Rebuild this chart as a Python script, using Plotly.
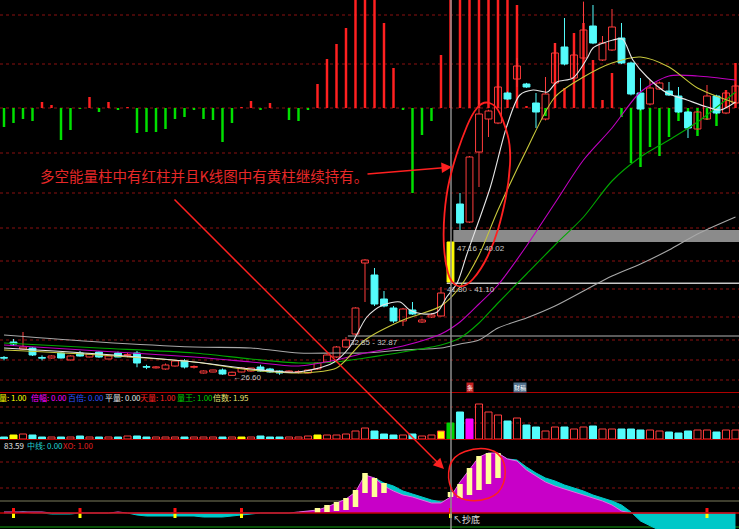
import plotly.graph_objects as go

W, H = 739, 529

# ---------------- data ----------------
opens = [29.50,32.04,30.92,31.08,29.50,29.48,30.28,29.16,30.28,29.64,30.44,29.32,30.28,29.90,30.28,28.10,27.90,27.72,28.20,29.00,
         28.00,27.08,27.24,27.56,26.70,27.24,27.40,28.04,27.72,27.40,27.24,27.20,27.08,27.72,28.84,29.64,31.24,33.32,44.68,42.76,
         38.92,37.48,35.40,37.16,35.24,36.04,36.20,41.64,54.12,51.24,62.44,67.72,67.08,71.88,74.12,73.32,70.28,67.72,73.48,79.24,
         74.28,77.48,82.60,77.16,78.76,80.68,76.68,71.88,70.12,72.52,72.20,71.40,68.84,66.12,67.72,71.40,68.68,70.28]
highs = [29.80,32.52,33.64,31.20,29.90,29.90,30.40,29.90,30.60,30.20,30.60,29.90,30.50,30.30,30.60,28.40,28.20,28.60,29.10,29.30,
         28.30,27.50,27.60,27.80,27.30,28.00,27.90,28.40,27.90,27.50,27.50,27.50,27.60,28.80,30.10,31.40,32.84,37.60,45.30,43.88,
         40.20,37.80,37.50,38.44,35.80,36.60,40.84,48.04,55.88,61.80,70.76,69.20,73.00,72.10,77.48,73.50,71.88,74.44,79.88,83.88,
         78.50,86.50,85.96,81.00,85.32,83.08,76.90,74.28,73.96,73.70,73.64,72.84,69.00,69.00,73.16,71.60,72.10,73.30]
lows = [29.10,31.40,30.80,29.80,29.10,29.40,29.40,29.10,29.70,29.60,29.50,29.30,29.60,29.60,28.00,27.70,27.80,27.60,28.10,27.80,
        27.80,27.00,27.20,26.80,26.60,27.20,27.30,27.30,27.10,26.80,27.10,27.00,27.00,27.60,28.70,29.50,31.10,33.10,38.44,37.80,
        37.60,35.10,34.60,36.40,35.10,35.90,36.10,41.10,49.96,51.10,56.84,64.84,66.90,70.80,72.84,72.70,66.28,67.50,73.30,76.30,
        74.10,77.30,79.70,77.00,78.60,76.50,71.50,69.10,69.90,72.40,71.40,68.70,64.68,66.00,67.60,68.50,68.50,70.10]
closes = [29.45,31.72,31.24,29.96,29.45,29.80,29.48,29.80,29.80,30.12,29.64,29.80,29.64,30.00,28.68,28.00,28.06,28.36,29.00,28.04,
          28.10,27.40,27.56,26.92,27.20,27.88,27.88,27.40,27.24,27.08,27.40,27.30,27.56,28.68,29.96,31.24,32.36,37.48,45.16,38.12,
          37.80,35.40,37.32,36.52,35.56,36.36,39.88,48.04,51.08,61.64,68.52,69.00,72.84,70.92,76.20,72.84,68.84,71.72,78.28,76.52,
          77.96,81.96,79.88,79.88,82.44,76.68,71.72,69.32,72.68,73.48,71.56,68.84,66.28,68.84,71.40,68.68,71.88,73.00]
yellow_candle = [47]

ma_idx = [0,10,20,26,31,35,38,42,46,48,50,52,55,58,61,64,67,70,73,77]
ma10 = [30.76,29.96,28.84,27.56,27.08,27.88,32.36,35.56,37.80,40.84,45.96,53.16,62.76,71.24,74.44,76.68,77.64,76.04,72.68,70.28]
ma20 = [31.56,30.60,29.64,28.84,28.20,29.16,30.28,31.40,33.32,35.24,38.12,41.16,47.40,54.28,61.16,66.28,72.04,74.60,74.60,73.96]
ma30 = [31.88,31.08,30.28,29.32,28.68,28.84,29.48,30.44,31.56,32.68,35.08,38.28,42.92,47.56,52.04,57.80,61.64,64.36,67.24,72.04]
ma60 = [33.16,32.04,31.24,31.08,30.28,30.28,30.28,30.76,31.08,31.72,32.36,34.28,35.88,37.80,40.20,42.60,44.52,46.76,49.32,52.04]
ma5_idx = [0,10,20,26,31,34.6,36.4,38.2,39.9,41.7,42.7,44.1,45.6,46.6,47.7,48.7,51.2,52.9,54.3,55.7,57.2,58.2,59.9,61.4,62.0,
           64.1,65.1,66.2,67.7,69.8,71.9,74.0,75.4,77.0]
ma5 = [31.08,30.12,28.84,27.72,27.24,28.68,31.24,36.04,37.96,38.44,37.16,36.52,36.84,39.24,41.48,45.96,56.84,66.44,71.56,72.36,
       72.04,73.64,74.28,77.48,79.08,80.36,80.52,77.16,74.44,71.88,70.76,69.64,69.16,70.44]

energy = [-19,-15,-11,-13,6,3,-32,-22,-1,11,-4,6,-2,1,-25,-24,-24,-21,-11,-9,
          -2,-11,-12,-34,-15,1,7,-2,5,0,-12,-13,-2,24,49,64,80,120,120,120,
          85,40,-2,-85,-27,-13,53,120,120,120,120,120,120,120,103,2,-3,-8,65,20,
          75,85,48,8,35,-9,-55,-59,-39,-48,-29,-13,-15,-28,-12,-18,18,45]

volume = [2,4,5,4,2,2,2,2,3,2,2,2,2,3,3,2,2,2,2,2,
          2,2,2,2,2,2,2,3,2,2,2,2,3,4,4,4,5,8,11,8,
          5,4,4,5,3,4,8,16,27,20,35,27,24,18,21,14,12,8,12,12,
          10,12,13,10,10,10,10,9,9,8,7,6,8,9,9,7,9,9]
volume_special = {1: "#ffff00", 25: "#ffff00", 33: "#ffff00", 46: "#ffff00", 47: "#00d000", 49: "#ff00ff"}

ind_cyan = [0,0,1,0,0,-1,-1,-1,0,0,0,0,0,0,-2,-3,-3,-3,-3,-3,
            -3,-4,-4,-4,-3,-2,-1,0,0,0,0,0,1,2,5,9,13,20,35,35,
            30,27,22,19,16,13,11,12,25,38,50,57,59,54,53,46,40,35,32,28,
            25,22,18,15,12,8,1,-8,-13,-18,-22,-22,-22,-22,-22,-22,-22,-22]
ind_mag = [1,1,1,1,1,0,0,0,0,0,0,0,1,0,0,0,0,0,0,0,
           0,0,0,0,0,0,0,0,0,0,0,1,2,3,6,10,14,21,38,35,
           27,22,18,16,13,10,10,16,31,43,56,60,60,54,52,43,37,31,27,24,
           21,18,15,12,8,2,0,0,0,0,0,0,0,0,0,0,0,0]
ybar_idx = [33,34,35,36,37,38,39,40,47,48,49,50,51,52]
ybar_base = [0,1,2,3,6,20,16,20,16,15,18,23,29,35]
ybar_top = [5,8,11,15,23,40,35,30,21,29,45,57,60,60]
signal_idx = [1,8,18,25,47,74]

vol_header = [("量: 1.00", "#ffff00"), ("倍幅: 0.00", "#ff00ff"), ("百倍: 0.00", "#3050ff"),
              ("平量: 0.00", "#e0e0e0"), ("天量: 1.00", "#ff2020"), ("量王: 1.00", "#00d000"),
              ("倍数: 1.95", "#e8e070")]
ind_header = [("83.59", "#e0e0e0"), ("中线: 0.00", "#20d0d0"), ("XO: 1.00", "#e02020")]
note_text = "多空能量柱中有红柱并且K线图中有黄柱继续持有。"

# ---------------- styling helpers ----------------
RED = "#ff3c3c"
CYAN = "#54fcfc"
BG = "#000000"
CJK = "Noto Sans CJK SC"
n = len(opens)
xs = list(range(n))


def P(px, py):
    return px / W, 1 - py / H


def segments(xv, y0v, y1v):
    sx, sy = [], []
    for a, b, c in zip(xv, y0v, y1v):
        sx += [a, a, None]
        sy += [b, c, None]
    return sx, sy


fig = go.Figure()

# energy bars (base axis y)
fig.add_trace(go.Bar(x=xs, y=energy, width=0.26, yaxis="y", xaxis="x",
                     marker=dict(color=["#ff2020" if v > 0 else "#00e000" for v in energy], line_width=0),
                     hoverinfo="skip", showlegend=False))

# candles (y2)
is_up = [c >= o for o, c in zip(opens, closes)]
wx_r, wy_r, wx_c, wy_c = [], [], [], []
for i in xs:
    top, bot = max(opens[i], closes[i]), min(opens[i], closes[i])
    sx, sy = (wx_r, wy_r) if is_up[i] else (wx_c, wy_c)
    sx += [i, i, None, i, i, None]
    sy += [highs[i], top, None, bot, lows[i], None]
fig.add_trace(go.Scatter(x=wx_r, y=wy_r, mode="lines", line=dict(color=RED, width=1), yaxis="y2",
                         hoverinfo="skip", showlegend=False))
fig.add_trace(go.Scatter(x=wx_c, y=wy_c, mode="lines", line=dict(color=CYAN, width=1), yaxis="y2",
                         hoverinfo="skip", showlegend=False))
body_base = [min(o, c) for o, c in zip(opens, closes)]
body_h = [max(abs(c - o), 0.12) for o, c in zip(opens, closes)]
fills, lines = [], []
for i in xs:
    if i in yellow_candle:
        fills.append("#ffff00"); lines.append("#ffff00")
    elif is_up[i]:
        fills.append("rgba(0,0,0,0)"); lines.append(RED)
    else:
        fills.append(CYAN); lines.append(CYAN)
fig.add_trace(go.Bar(x=xs, y=body_h, base=body_base, width=0.72, yaxis="y2",
                     marker=dict(color=fills, line=dict(color=lines, width=1)),
                     hoverinfo="skip", showlegend=False))

# moving averages
for idx, vals, col in [(ma_idx, ma60, "#a8a8a8"), (ma_idx, ma30, "#00a800"), (ma_idx, ma20, "#c000c0"),
                       (ma_idx, ma10, "#c8c83c"), (ma5_idx, ma5, "#e6e6e6")]:
    fig.add_trace(go.Scatter(x=idx, y=vals, mode="lines", yaxis="y2",
                             line=dict(color=col, width=1.1, shape="spline", smoothing=0.8),
                             hoverinfo="skip", showlegend=False))

# volume (y3)
vfill, vline = [], []
for i in xs:
    if i in volume_special:
        vfill.append(volume_special[i]); vline.append(volume_special[i] if i != 46 else RED)
    elif is_up[i]:
        vfill.append("rgba(0,0,0,0)"); vline.append(RED)
    else:
        vfill.append(CYAN); vline.append(CYAN)
fig.add_trace(go.Bar(x=xs, y=volume, width=0.74, yaxis="y3",
                     marker=dict(color=vfill, line=dict(color=vline, width=1)),
                     hoverinfo="skip", showlegend=False))

# indicator (y4)
fig.add_trace(go.Scatter(x=xs, y=ind_cyan, mode="lines", fill="tozeroy", yaxis="y4",
                         line=dict(color="#00c8c8", width=1), fillcolor="#00c8c8",
                         hoverinfo="skip", showlegend=False))
fig.add_trace(go.Scatter(x=xs, y=ind_mag, mode="lines", fill="tozeroy", yaxis="y4",
                         line=dict(color="#e070e0", width=1), fillcolor="#c800c8",
                         hoverinfo="skip", showlegend=False))
# light-yellow floating bars (drawn as thick segments so they sit above the fills)
bx, by = segments(ybar_idx, ybar_base, ybar_top)
fig.add_trace(go.Scatter(x=bx, y=by, mode="lines", yaxis="y4", line=dict(color="#ffff99", width=5.5),
                         hoverinfo="skip", showlegend=False))
sx, sy = segments(signal_idx, [0] * len(signal_idx), [5] * len(signal_idx))
fig.add_trace(go.Scatter(x=sx, y=sy, mode="lines", yaxis="y4", line=dict(color="#ff1010", width=3),
                         hoverinfo="skip", showlegend=False))
sx, sy = segments(signal_idx, [0] * len(signal_idx), [-5] * len(signal_idx))
fig.add_trace(go.Scatter(x=sx, y=sy, mode="lines", yaxis="y4", line=dict(color="#ffff00", width=3),
                         hoverinfo="skip", showlegend=False))

# ---------------- shapes ----------------
shapes = []


def hline_px(py, color, dash="dot", width=1, layer="below", x0=0, x1=W):
    a, b = P(x0, py), P(x1, py)
    shapes.append(dict(type="line", xref="paper", yref="paper", x0=a[0], x1=b[0], y0=a[1], y1=b[1],
                       line=dict(color=color, width=width, dash=dash), layer=layer))


for py in [15, 64, 108, 153, 193, 228, 261, 289, 317, 340, 360, 380]:
    hline_px(py, "#8a1010")
for py in [407, 423, 462, 488]:
    hline_px(py, "#8a1010")
hline_px(392.5, "#b00000", "solid", 1.2, "above")
hline_px(439.5, "#b00000", "solid", 1.2, "above")
hline_px(501, "#7c7c5c", "solid", 1.2)
hline_px(527, "#0b6b0b", "solid", 1.5)
shapes.append(dict(type="line", xref="paper", yref="y4", x0=0, x1=1, y0=0, y1=0,
                   line=dict(color="#c00000", width=1.5), layer="above"))

# gap band and gap lines (price coords)
shapes.append(dict(type="rect", xref="x", yref="y2", x0=47.3, x1=78, y0=highs[47], y1=lows[48],
                   fillcolor="#9a9a9a", line=dict(width=0), opacity=0.9, layer="below"))
shapes.append(dict(type="line", xref="x", yref="y2", x0=46.6, x1=78, y0=41.45, y1=41.45,
                   line=dict(color="#c8c8c8", width=1.5), layer="below"))
shapes.append(dict(type="line", xref="x", yref="y2", x0=36.2, x1=78, y0=33.0, y1=33.0,
                   line=dict(color="#b4b4b4", width=1.2), layer="below"))

# cursor line
shapes.append(dict(type="line", xref="paper", yref="paper", x0=451 / W, x1=451 / W, y0=0, y1=1,
                   line=dict(color="#8c8c8c", width=1.5), layer="above"))


def smooth_closed(pts):
    pp = [P(a, b) for a, b in pts]
    m = len(pp)
    mids = [((pp[k][0] + pp[(k + 1) % m][0]) / 2, (pp[k][1] + pp[(k + 1) % m][1]) / 2) for k in range(m)]
    s = f"M {mids[-1][0]:.5f},{mids[-1][1]:.5f}"
    for k in range(m):
        s += f" Q {pp[k][0]:.5f},{pp[k][1]:.5f} {mids[k][0]:.5f},{mids[k][1]:.5f}"
    return s + " Z"


oval = [(483, 101), (496, 105), (504, 122), (511, 147), (509, 182), (502, 216), (494, 243), (481, 270),
        (465, 288), (451, 284), (445, 262), (443, 232), (446, 195), (453, 165), (462, 138), (472, 114)]
shapes.append(dict(type="path", xref="paper", yref="paper", path=smooth_closed(oval),
                   line=dict(color="#ff2020", width=1.8), layer="above"))
ring = [(478, 447), (500, 452), (507, 472), (500, 494), (478, 502), (455, 498), (447, 478), (452, 456)]
shapes.append(dict(type="path", xref="paper", yref="paper", path=smooth_closed(ring),
                   line=dict(color="#ff2020", width=1.5), layer="above"))

# ---------------- annotations ----------------
ann = []


def text_px(px, py, text, color, size=8, family="Liberation Sans", anchor="left", bg=None):
    a = P(px, py)
    d = dict(x=a[0], y=a[1], xref="paper", yref="paper", text=text, showarrow=False,
             xanchor=anchor, yanchor="middle", font=dict(color=color, size=size, family=family))
    if bg:
        d["bgcolor"] = bg
        d["borderpad"] = 0
    ann.append(d)


vx = [-3, 29, 66, 103, 138, 175, 211]
for (t, c), px in zip(vol_header, vx):
    text_px(px, 397, t, c, 8, CJK)
ix = [2, 25, 61]
for (t, c), px in zip(ind_header, ix):
    text_px(px, 445, t, c, 8, CJK)

text_px(38, 175, note_text, "#e62828", 14.5, CJK)
text_px(455, 248, "47.16 - 40.02", "#c8c8c8", 8)
text_px(445, 289, "41.80 - 41.10", "#c8c8c8", 8)
text_px(348, 342, "32.85 - 32.87", "#c8c8c8", 8)
text_px(231, 377, "←26.60", "#c8c8c8", 8)
text_px(451, 519, "↖抄底", "#e0e0e0", 9, CJK)
text_px(466, 387, "条", "#ffffff", 6, CJK, bg="#c02020")
text_px(513, 387, "财稿", "#ffffff", 6, CJK, bg="#50708c")

# arrows
h1 = P(452, 167)
ann.append(dict(x=h1[0], y=h1[1], xref="paper", yref="paper", ax=366 - 452, ay=174 - 167, text="",
                showarrow=True, arrowhead=2, arrowsize=1.4, arrowwidth=1.5, arrowcolor="#ff2020"))
h2 = P(444, 469)
ann.append(dict(x=h2[0], y=h2[1], xref="paper", yref="paper", ax=173 - 444, ay=198 - 469, text="",
                showarrow=True, arrowhead=2, arrowsize=1.4, arrowwidth=1.5, arrowcolor="#ff2020"))

fig.update_layout(
    width=W, height=H, margin=dict(l=0, r=0, t=0, b=0),
    paper_bgcolor=BG, plot_bgcolor=BG, barmode="overlay", showlegend=False,
    xaxis=dict(range=[-0.421, 77.37], domain=[0, 1], visible=False, showgrid=False, zeroline=False),
    yaxis=dict(domain=[1 - 392 / H, 1], range=[-284, 108], visible=False, showgrid=False, zeroline=False),
    yaxis2=dict(overlaying="y", range=[24.04, 86.76], visible=False, showgrid=False, zeroline=False),
    yaxis3=dict(domain=[1 - 440 / H, 1 - 392 / H], range=[-1, 47], visible=False, showgrid=False,
                zeroline=False, anchor="x"),
    yaxis4=dict(domain=[0, 1 - 440 / H], range=[-16, 73], visible=False, showgrid=False,
                zeroline=False, anchor="x"),
    shapes=shapes, annotations=ann,
)

fig.write_html("out.html", config={"displayModeBar": False},
               post_script="document.body.style.margin='0';document.body.style.background='#000';")
